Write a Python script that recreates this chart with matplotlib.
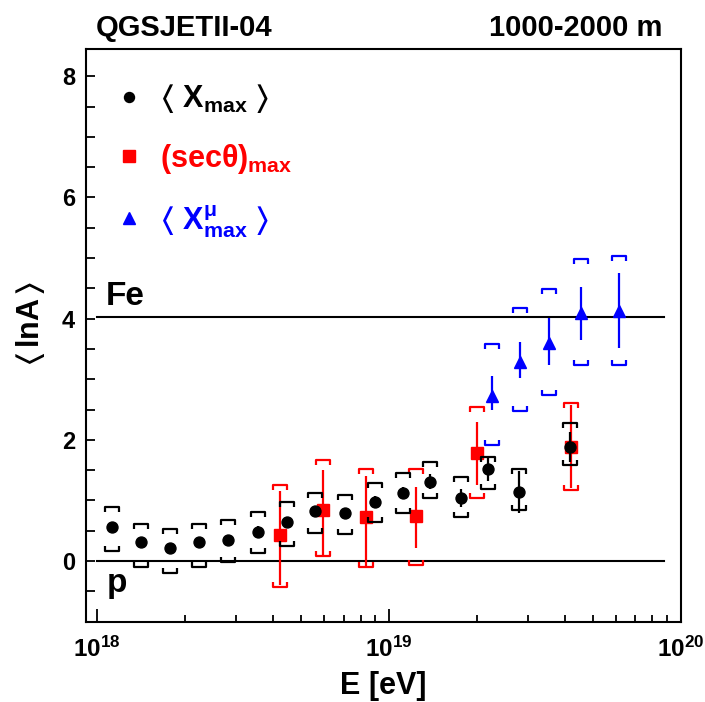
import numpy as np
import matplotlib
matplotlib.use('Agg')
import matplotlib.pyplot as plt
from matplotlib.path import Path
from matplotlib.lines import Line2D
from matplotlib.ticker import FixedLocator, NullFormatter, MultipleLocator

# ---------------- data ----------------
# <Xmax> (black)
E_xmax = [1.13e18, 1.42e18, 1.78e18, 2.24e18, 2.82e18, 3.56e18, 4.49e18, 5.59e18,
          7.06e18, 8.95e18, 1.12e19, 1.38e19, 1.77e19, 2.19e19, 2.79e19, 4.17e19]
lnA_xmax = [0.56, 0.31, 0.22, 0.31, 0.35, 0.48, 0.64, 0.82, 0.79, 0.97, 1.12, 1.31,
            1.04, 1.52, 1.14, 1.88]
stat_xmax = [0.05, 0.05, 0.05, 0.05, 0.06, 0.10, 0.08, 0.08, 0.08, 0.10, 0.10, 0.12,
             0.15, 0.20, 0.35, 0.25]
sys_hi_xmax = [0.90, 0.62, 0.53, 0.62, 0.67, 0.81, 0.98, 1.12, 1.09, 1.29, 1.46, 1.64,
               1.39, 1.72, 1.52, 2.28]
sys_lo_xmax = [0.17, -0.09, -0.20, -0.09, -0.02, 0.13, 0.25, 0.47, 0.45, 0.65, 0.79, 1.04,
               0.73, 1.19, 0.85, 1.59]

# (sec theta)max (red)
E_sec = [4.24e18, 5.96e18, 8.38e18, 1.24e19, 2.01e19, 4.22e19]
lnA_sec = [0.43, 0.85, 0.73, 0.74, 1.79, 1.88]
stat_hi_sec = [1.15, 1.51, 1.40, 1.23, 2.30, 2.58]
stat_lo_sec = [-0.39, 0.10, -0.09, 0.21, 1.26, 1.20]
sys_hi_sec = [1.26, 1.66, 1.52, 1.52, 2.55, 2.61]
sys_lo_sec = [-0.42, 0.08, -0.09, -0.06, 1.04, 1.18]

# <Xmax^mu> (blue)
E_mu = [2.25e19, 2.81e19, 3.53e19, 4.57e19, 6.17e19]
lnA_mu = [2.72, 3.29, 3.60, 4.09, 4.12]
stat_hi_mu = [3.05, 3.62, 4.01, 4.53, 4.76]
stat_lo_mu = [2.50, 3.02, 3.24, 3.65, 3.51]
sys_hi_mu = [3.59, 4.17, 4.49, 4.98, 5.04]
sys_lo_mu = [1.92, 2.47, 2.74, 3.24, 3.24]

# reference lines
lnA_Fe = np.log(56.0)
lnA_p = 0.0
ref_E = [1.0e18, 8.8e19]

xticks = [1e18, 1e19, 1e20]
xtick_labels = [r'$\mathbf{10^{18}}$', r'$\mathbf{10^{19}}$', r'$\mathbf{10^{20}}$']
yticks = [0, 2, 4, 6, 8]

# ---------------- style ----------------
plt.rcParams['font.family'] = ['Liberation Sans', 'DejaVu Sans']
plt.rcParams['font.weight'] = 'bold'
plt.rcParams['mathtext.fontset'] = 'custom'
plt.rcParams['mathtext.rm'] = 'Liberation Sans:bold'
plt.rcParams['mathtext.bf'] = 'Liberation Sans:bold'
plt.rcParams['mathtext.it'] = 'Liberation Sans:bold'
plt.rcParams['mathtext.fallback'] = 'stixsans'

RED = '#ff0000'
BLUE = '#0000ff'

top_br = Path([(-1, -0.8), (-1, 0), (1, 0), (1, -0.8)],
              [Path.MOVETO, Path.LINETO, Path.LINETO, Path.LINETO])
bot_br = Path([(-1, 0.8), (-1, 0), (1, 0), (1, 0.8)],
              [Path.MOVETO, Path.LINETO, Path.LINETO, Path.LINETO])

fig = plt.figure(figsize=(7.05, 7.02), dpi=100)
ax = fig.add_axes([0.1216, 0.1144, 0.8439, 0.8158])
ax.set_xscale('log')
ax.set_xlim(9.15e17, 1.0e20)
ax.set_ylim(-1.0, 8.45)

# reference lines
ax.plot(ref_E, [lnA_Fe, lnA_Fe], color='k', lw=1.5, zorder=1)
ax.plot(ref_E, [lnA_p, lnA_p], color='k', lw=1.5, zorder=1)


def draw(E, val, lo, hi, slo, shi, color, marker, ms, z):
    E = np.asarray(E); val = np.asarray(val)
    lo = np.asarray(lo); hi = np.asarray(hi)
    ax.errorbar(E, val, yerr=[val - lo, hi - val], fmt=marker, color=color, ms=ms,
                elinewidth=1.6, capsize=0, zorder=z, mec=color, mfc=color)
    ax.plot(E, shi, marker=top_br, ls='none', ms=9.4, mec=color, mfc='none', mew=1.6, zorder=z)
    ax.plot(E, slo, marker=bot_br, ls='none', ms=9.4, mec=color, mfc='none', mew=1.6, zorder=z)


xm = np.asarray(lnA_xmax); sx = np.asarray(stat_xmax)
draw(E_sec, lnA_sec, stat_lo_sec, stat_hi_sec, sys_lo_sec, sys_hi_sec, RED, 's', 8.3, 3)
draw(E_xmax, lnA_xmax, xm - sx, xm + sx, sys_lo_xmax, sys_hi_xmax, 'k', 'o', 7.9, 4)
draw(E_mu, lnA_mu, stat_lo_mu, stat_hi_mu, sys_lo_mu, sys_hi_mu, BLUE, '^', 8.2, 5)

# axes styling
for s in ['left', 'right', 'top', 'bottom']:
    ax.spines[s].set_linewidth(1.5)
ax.set_xticks(xticks)
ax.set_xticklabels(xtick_labels)
ax.xaxis.set_minor_locator(FixedLocator([m * 10.0 ** d for d in (18, 19) for m in range(2, 10)]))
ax.xaxis.set_minor_formatter(NullFormatter())
ax.set_yticks(yticks)
ax.set_yticklabels([str(v) for v in yticks])
ax.yaxis.set_minor_locator(MultipleLocator(0.5))
ax.tick_params(axis='x', which='major', direction='in', length=9.5, width=1.3,
               labelsize=17.5, pad=11, top=False)
ax.tick_params(axis='x', which='minor', direction='in', length=5, width=1.3, top=False)
ax.tick_params(axis='y', which='major', direction='in', length=6.5, width=1.3,
               labelsize=17, pad=7.7, right=False)
ax.tick_params(axis='y', which='minor', direction='in', length=6.5, width=1.3, right=False)

ax.set_xlabel('E [eV]', fontsize=22, fontweight='bold', labelpad=6)
ax.set_ylabel(r'$\langle\,$lnA$\,\rangle$', fontsize=22, fontweight='bold')
ax.yaxis.set_label_coords(-0.065, 0.52)

# line labels
ax.text(1.07e18, 4.23, 'Fe', fontsize=24, fontweight='bold', ha='left', va='baseline')
ax.text(1.08e18, -0.51, 'p', fontsize=24, fontweight='bold', ha='left', va='baseline')

# header texts
fig.text(96 / 705, 1 - 36 / 702, 'QGSJETII-04', fontsize=21, fontweight='bold',
         ha='left', va='baseline')
fig.text(662 / 705, 1 - 36 / 702, '1000-2000 m', fontsize=21, fontweight='bold',
         ha='right', va='baseline')

# legend
handles = [Line2D([], [], marker='o', ls='none', color='k', ms=7.2),
           Line2D([], [], marker='s', ls='none', color=RED, ms=8.0),
           Line2D([], [], marker='^', ls='none', color=BLUE, ms=8.5)]
labels = [r'$\langle\ \mathbf{X}_{\mathbf{max}}\ \rangle$',
          r'$\mathbf{(sec\theta)}_{\mathbf{max}}$',
          r'$\langle\ \mathbf{X}^{\mu}_{\mathbf{max}}\ \rangle$']
leg = ax.legend(handles, labels, loc='upper left', bbox_to_anchor=(0.006, 0.99),
                frameon=False, fontsize=22, labelcolor=['k', RED, BLUE],
                handlelength=0.8, handletextpad=0.6, labelspacing=0.88)

fig.savefig('out.png', dpi=100)
